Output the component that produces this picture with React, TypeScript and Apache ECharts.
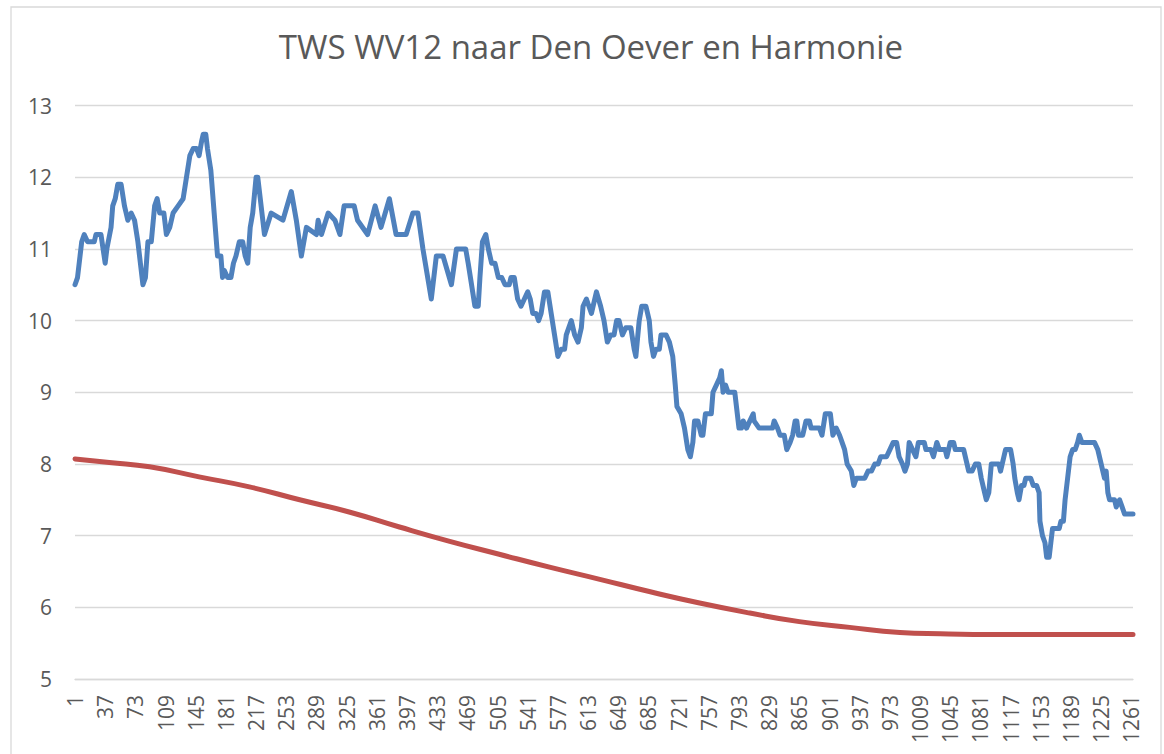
import React, { useEffect, useRef } from "react";
import * as echarts from "echarts";

const titleText = "TWS WV12 naar Den Oever en Harmonie";

// sample number (0-based) and value of the blue series
const blueIndex = [
  0, 3, 8, 11, 15, 23, 25, 31, 36, 38, 43, 45, 48, 51, 55, 59, 61, 63, 67, 71, 75, 78, 81, 84, 87, 91, 95, 98, 101, 106,
  109, 113, 117, 123, 129, 133, 137, 141, 145, 148, 151, 153, 156, 158, 162, 166, 170, 174, 176, 178, 182, 186, 189, 192, 196, 200, 203, 206, 209, 212,
  216, 218, 226, 234, 248, 258, 264, 270, 276, 288, 290, 294, 302, 310, 316, 321, 333, 337, 349, 358, 365, 375, 383, 389, 395, 403, 409, 415, 425, 431,
  439, 449, 455, 466, 469, 473, 477, 481, 483, 486, 490, 493, 497, 501, 505, 509, 513, 518, 520, 524, 528, 532, 536, 540, 543, 546, 550, 553, 556, 560,
  564, 568, 572, 576, 580, 584, 586, 592, 596, 600, 604, 606, 610, 613, 616, 622, 627, 631, 635, 639, 643, 646, 649, 653, 657, 663, 667, 669, 673, 676,
  681, 685, 687, 690, 693, 697, 699, 705, 709, 713, 716, 718, 723, 727, 731, 734, 737, 739, 743, 747, 749, 752, 759, 761, 765, 769, 771, 773, 776, 779,
  787, 789, 792, 795, 797, 801, 805, 809, 810, 816, 832, 834, 838, 841, 846, 849, 853, 856, 859, 861, 863, 868, 872, 876, 878, 888, 891, 895, 901, 904,
  908, 912, 915, 918, 921, 926, 929, 932, 942, 946, 950, 954, 958, 961, 968, 972, 976, 980, 983, 987, 990, 993, 995, 999, 1003, 1006, 1013, 1015, 1021, 1024,
  1028, 1031, 1038, 1040, 1044, 1048, 1050, 1060, 1064, 1066, 1070, 1074, 1078, 1081, 1085, 1087, 1090, 1093, 1102, 1104, 1108, 1110, 1116, 1119, 1121, 1124, 1126, 1129, 1132, 1134,
  1140, 1143, 1147, 1150, 1151, 1154, 1157, 1159, 1162, 1164, 1166, 1170, 1174, 1176, 1179, 1181, 1184, 1187, 1190, 1193, 1196, 1198, 1201, 1204, 1216, 1220, 1224, 1226, 1228, 1230,
  1232, 1234, 1240, 1242, 1246, 1249, 1252, 1262,
];
const blueValue = [
  10.5, 10.6, 11.1, 11.2, 11.1, 11.1, 11.2, 11.2, 10.8, 11.0, 11.3, 11.6, 11.7, 11.9, 11.9, 11.6, 11.5, 11.4, 11.5, 11.4, 11.1, 10.8, 10.5, 10.6, 11.1, 11.1, 11.6, 11.7, 11.5, 11.5,
  11.2, 11.3, 11.5, 11.6, 11.7, 12.0, 12.3, 12.4, 12.4, 12.3, 12.5, 12.6, 12.6, 12.4, 12.1, 11.5, 10.9, 10.9, 10.6, 10.7, 10.6, 10.6, 10.8, 10.9, 11.1, 11.1, 10.9, 10.8, 11.3, 11.5,
  12.0, 12.0, 11.2, 11.5, 11.4, 11.8, 11.4, 10.9, 11.3, 11.2, 11.4, 11.2, 11.5, 11.4, 11.2, 11.6, 11.6, 11.4, 11.2, 11.6, 11.3, 11.7, 11.2, 11.2, 11.2, 11.5, 11.5, 11.0, 10.3, 10.9,
  10.9, 10.5, 11.0, 11.0, 10.8, 10.5, 10.2, 10.2, 10.6, 11.1, 11.2, 11.0, 10.8, 10.8, 10.6, 10.6, 10.5, 10.5, 10.6, 10.6, 10.3, 10.2, 10.3, 10.4, 10.3, 10.1, 10.1, 10.0, 10.1, 10.4,
  10.4, 10.1, 9.8, 9.5, 9.6, 9.6, 9.8, 10.0, 9.8, 9.7, 9.9, 10.2, 10.3, 10.2, 10.1, 10.4, 10.2, 10.0, 9.7, 9.8, 9.8, 10.0, 10.0, 9.8, 9.9, 9.9, 9.6, 9.5, 10.0, 10.2,
  10.2, 10.0, 9.7, 9.5, 9.6, 9.6, 9.8, 9.8, 9.7, 9.5, 9.1, 8.8, 8.7, 8.5, 8.2, 8.1, 8.3, 8.6, 8.6, 8.4, 8.4, 8.7, 8.7, 9.0, 9.1, 9.2, 9.3, 9.0, 9.1, 9.0,
  9.0, 8.8, 8.5, 8.5, 8.6, 8.5, 8.6, 8.7, 8.6, 8.5, 8.5, 8.6, 8.5, 8.4, 8.4, 8.2, 8.3, 8.4, 8.6, 8.6, 8.4, 8.4, 8.6, 8.6, 8.5, 8.5, 8.4, 8.7, 8.7, 8.4,
  8.5, 8.4, 8.3, 8.2, 8.0, 7.9, 7.7, 7.8, 7.8, 7.9, 7.9, 8.0, 8.0, 8.1, 8.1, 8.2, 8.3, 8.3, 8.1, 8.0, 7.9, 8.0, 8.3, 8.2, 8.1, 8.3, 8.3, 8.2, 8.2, 8.1,
  8.3, 8.2, 8.2, 8.1, 8.3, 8.3, 8.2, 8.2, 8.0, 7.9, 7.9, 8.0, 8.0, 7.8, 7.6, 7.5, 7.6, 8.0, 8.0, 7.9, 8.1, 8.2, 8.2, 8.0, 7.8, 7.6, 7.5, 7.7, 7.7, 7.8,
  7.8, 7.7, 7.7, 7.6, 7.2, 7.0, 6.9, 6.7, 6.7, 6.9, 7.1, 7.1, 7.1, 7.2, 7.2, 7.5, 7.8, 8.1, 8.2, 8.2, 8.3, 8.4, 8.3, 8.3, 8.3, 8.2, 8.0, 7.9, 7.8, 7.9,
  7.6, 7.5, 7.5, 7.4, 7.5, 7.4, 7.3, 7.3,
];

// red series (smooth curve)
const redIndex = [0, 41, 89, 148, 208, 268, 327, 387, 447, 506, 566, 626, 685, 745, 805, 864, 924, 984, 1032, 1102, 1262];
const redValue = [8.07, 8.02, 7.96, 7.82, 7.68, 7.5, 7.33, 7.12, 6.92, 6.74, 6.56, 6.39, 6.22, 6.06, 5.92, 5.8, 5.72, 5.65, 5.63, 5.62, 5.62];

const yMin = 5;
const yMax = 13;
const xMax = 1262;
const labelStep = 36;

const FONT = "'Open Sans', sans-serif";
const TEXT = "#595959";
const GRID = "#D9D9D9";

export default function App() {
  const ref = useRef<HTMLDivElement>(null);
  useEffect(() => {
    if (!ref.current) return;
    const chart = echarts.init(ref.current, null, { renderer: "svg" });
    const blueData = blueIndex.map((x, i) => [x, blueValue[i]]);
    const redData = redIndex.map((x, i) => [x, redValue[i]]);
    chart.setOption({
      animation: false,
      backgroundColor: "#ffffff",
      title: {
        text: titleText,
        left: 586,
        textAlign: "center",
        top: 25,
        textStyle: { fontFamily: FONT, fontSize: 33, fontWeight: "normal", color: TEXT },
      },
      graphic: [
        {
          type: "rect",
          shape: { x: 11, y: 7, width: 1150, height: 760 },
          style: { fill: "none", stroke: GRID, lineWidth: 1.3 },
          silent: true,
          z: -1,
        },
      ],
      grid: { left: 75, right: 31, top: 105.5, bottom: 75, containLabel: false },
      xAxis: {
        type: "value",
        min: 0,
        max: xMax,
        interval: labelStep,
        splitLine: { show: false },
        axisTick: { show: false },
        axisLine: { show: true, lineStyle: { color: GRID, width: 1.3 } },
        axisLabel: {
          rotate: 90,
          margin: 16,
          fontFamily: FONT,
          fontSize: 21,
          color: TEXT,
          showMaxLabel: false,
          formatter: (v: number) => String(v + 1),
        },
      },
      yAxis: {
        type: "value",
        min: yMin,
        max: yMax,
        interval: 1,
        axisLine: { show: false },
        axisTick: { show: false },
        splitLine: { lineStyle: { color: GRID, width: 1.3 } },
        axisLabel: { margin: 23, fontFamily: FONT, fontSize: 21, color: TEXT },
      },
      series: [
        {
          type: "line",
          data: redData,
          smooth: true,
          showSymbol: false,
          symbol: "none",
          lineStyle: { color: "#C0504D", width: 5, cap: "round", join: "round" },
          z: 2,
        },
        {
          type: "line",
          data: blueData,
          showSymbol: false,
          symbol: "none",
          lineStyle: { color: "#4F81BD", width: 5, cap: "round", join: "round" },
          z: 3,
        },
      ],
    });
    return () => chart.dispose();
  }, []);
  return <div ref={ref} style={{ width: 1164, height: 754, position: "absolute", left: 0, top: 0 }} />;
}
